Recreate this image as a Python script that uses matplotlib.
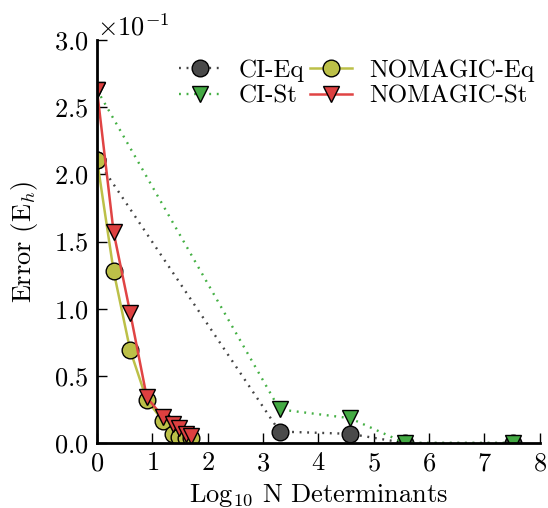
import matplotlib
matplotlib.use('Agg')
import matplotlib.pyplot as plt
from matplotlib.ticker import ScalarFormatter

# data
ci_eq_x = [0.0, 3.30, 4.57, 5.56, 7.51]
ci_eq_y = [0.211, 0.0085, 0.0068, 0.0, 0.0]

ci_st_x = [0.0, 3.30, 4.57, 5.56, 7.51]
ci_st_y = [0.263, 0.025, 0.0185, 0.0, 0.0]

nm_eq_x = [0.0, 0.30, 0.60, 0.90, 1.20, 1.38, 1.48, 1.60, 1.70]
nm_eq_y = [0.211, 0.128, 0.069, 0.032, 0.016, 0.0065, 0.0045, 0.004, 0.004]

nm_st_x = [0.0, 0.30, 0.60, 0.90, 1.20, 1.38, 1.48, 1.60, 1.70]
nm_st_y = [0.263, 0.157, 0.097, 0.034, 0.019, 0.014, 0.011, 0.007, 0.005]

plt.rcParams['font.family'] = 'serif'
plt.rcParams['font.serif'] = ['cmr10', 'DejaVu Serif']
plt.rcParams['mathtext.fontset'] = 'cm'
plt.rcParams['axes.formatter.use_mathtext'] = True
plt.rcParams['axes.unicode_minus'] = True

fig = plt.figure(figsize=(5.48, 5.08), dpi=100)
ax = fig.add_axes([0.177, 0.128, 0.808, 0.793])

ms = 12
dots = (0, (0.8, 2.4))
ax.plot(ci_eq_x, ci_eq_y, linestyle=dots, color='#444444', lw=1.7, marker='o', ms=ms,
        mfc='#4a4a4a', mec='black', label='CI-Eq')
ax.plot(ci_st_x, ci_st_y, linestyle=dots, color='#44b044', lw=1.7, marker='v', ms=ms,
        mfc='#44aa44', mec='black', label='CI-St')
ax.plot(nm_eq_x, nm_eq_y, '-', color='#bcc048', lw=1.8, marker='o', ms=ms,
        mfc='#bcc048', mec='black', label='NOMAGIC-Eq')
ax.plot(nm_st_x, nm_st_y, '-', color='#e04444', lw=1.8, marker='v', ms=ms,
        mfc='#dd4040', mec='black', label='NOMAGIC-St')

ax.set_xlim(0, 8)
ax.set_ylim(0, 0.3)
ax.set_xticks(range(0, 9))
ax.set_yticks([0, 0.05, 0.10, 0.15, 0.20, 0.25, 0.30])

fmt = ScalarFormatter(useMathText=True)
fmt.set_powerlimits((0, 0))
ax.yaxis.set_major_formatter(fmt)
ax.yaxis.get_offset_text().set_fontsize(19)

ax.spines['top'].set_visible(False)
ax.spines['right'].set_visible(False)
ax.spines['left'].set_linewidth(2)
ax.spines['bottom'].set_linewidth(2)
ax.tick_params(direction='in', length=7, width=1, labelsize=19, pad=6,
               top=False, right=False)

ax.set_xlabel(r'Log$_{10}$ N Determinants', fontsize=19, labelpad=5)
ax.set_ylabel(r'Error (E$_h$)', fontsize=19, labelpad=10)

ax.legend(loc='upper right', ncol=2, frameon=False, fontsize=18,
          handlelength=1.7, columnspacing=0.2, handletextpad=0.7,
          labelspacing=0.15, numpoints=1, borderaxespad=0.0, borderpad=0.2,
          bbox_to_anchor=(1.0, 0.965))

fig.savefig('out.png', dpi=100)
